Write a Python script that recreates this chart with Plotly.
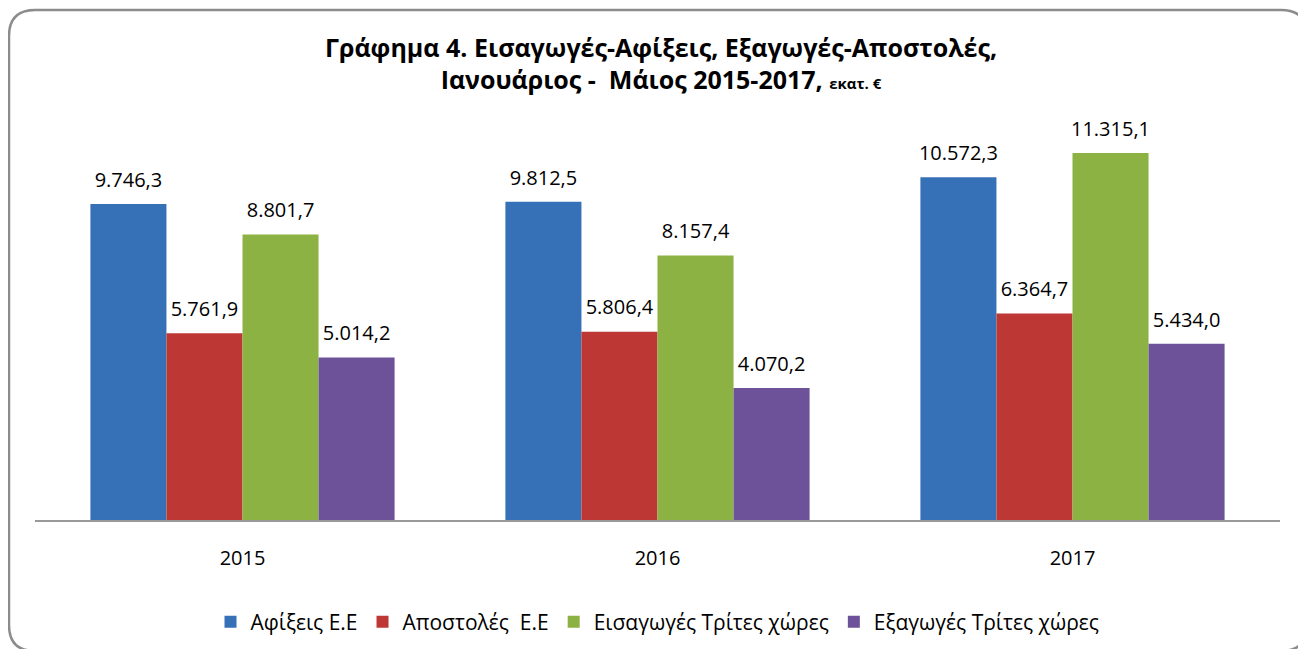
import plotly.graph_objects as go

years = ["2015", "2016", "2017"]
series_names = ["Αφίξεις Ε.Ε", "Αποστολές  Ε.Ε", "Εισαγωγές Τρίτες χώρες", "Εξαγωγές Τρίτες χώρες"]
afixeis = [9746.3, 9812.5, 10572.3]
apostoles = [5761.9, 5806.4, 6364.7]
eisagoges = [8801.7, 8157.4, 11315.1]
exagoges = [5014.2, 4070.2, 5434.0]
values = [afixeis, apostoles, eisagoges, exagoges]
colors = ["#3671B8", "#BD3734", "#8BB243", "#6E5299"]

W, H = 1306, 649
ML, MR, MT, MB = 27, 34, 58, 137
FONT = "Open Sans"

fig = go.Figure()
for i, (name, vals, col) in enumerate(zip(series_names, values, colors)):
    fig.add_trace(go.Bar(x=years, y=vals, name=name, marker=dict(color=col, line=dict(width=0)),
                         offsetgroup=str(i), hoverinfo="skip"))
for i, vals in enumerate(values):
    fig.add_trace(go.Scatter(x=years, y=vals, mode="markers+text", offsetgroup=str(i),
                             marker=dict(size=18, opacity=0), texttemplate="%{y:,.1f}",
                             textposition="top center", textfont=dict(family=FONT, size=20, color="#000"),
                             showlegend=False, cliponaxis=False, hoverinfo="skip"))

# rounded chart border (pixel -> paper)
pw, ph = W - ML - MR, H - MT - MB
def px(x): return (x - ML) / pw
def py(y): return (H - MB - y) / ph
x0, y0, x1, y1, r = 1, 2, 1299, 643, 26
path = (f"M {px(x0+r)},{py(y0)} L {px(x1-r)},{py(y0)} Q {px(x1)},{py(y0)} {px(x1)},{py(y0+r)} "
        f"L {px(x1)},{py(y1-r)} Q {px(x1)},{py(y1)} {px(x1-r)},{py(y1)} "
        f"L {px(x0+r)},{py(y1)} Q {px(x0)},{py(y1)} {px(x0)},{py(y1-r)} "
        f"L {px(x0)},{py(y0+r)} Q {px(x0)},{py(y0)} {px(x0+r)},{py(y0)} Z")

fig.update_layout(
    width=W, height=H,
    margin=dict(l=ML, r=MR, t=MT, b=MB),
    paper_bgcolor="white", plot_bgcolor="white",
    barmode="group", bargap=0.267, bargroupgap=0,
    scattermode="group", scattergap=0.267,
    separators=",.",
    font=dict(family=FONT, color="#000"),
    title=dict(text="<b>Γράφημα 4. Εισαγωγές-Αφίξεις, Εξαγωγές-Αποστολές,<br>Ιανουάριος -  Μάιος 2015-2017, <span style='font-size:15px'>εκατ. €</span></b>",
               x=0.5, xanchor="center", y=0.925, yanchor="top", font=dict(family=FONT, size=25, color="#000")),
    xaxis=dict(showline=True, linecolor="#999", linewidth=1.5, ticks="", showgrid=False,
               tickfont=dict(family=FONT, size=20, color="#000"), ticklabelstandoff=19),
    yaxis=dict(range=[0, 14000], visible=False, showgrid=False, zeroline=False),
    legend=dict(orientation="h", x=0.5, xanchor="center", y=-0.18, yanchor="top",
                font=dict(family=FONT, size=21, color="#000"), itemwidth=30,
                traceorder="normal"),
    shapes=[dict(type="path", path=path, xref="paper", yref="paper",
                 line=dict(color="#8c8c8c", width=2.5), fillcolor="rgba(0,0,0,0)", layer="below")],
)

fig.write_html("out.html")
